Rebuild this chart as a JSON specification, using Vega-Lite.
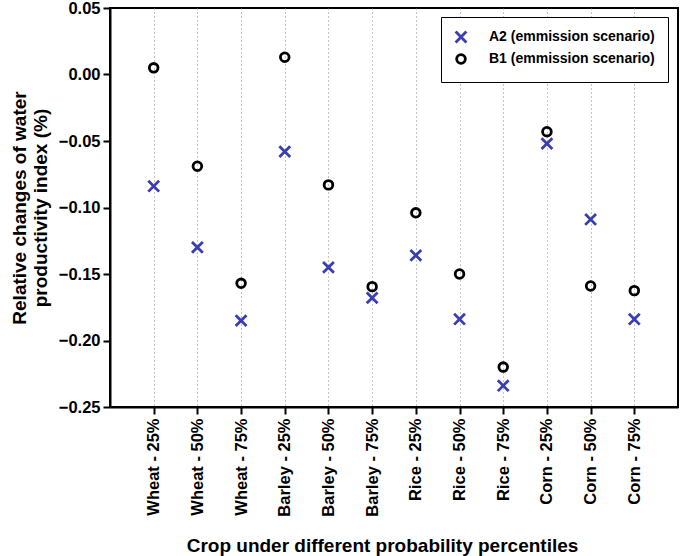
{
  "$schema": "https://vega.github.io/schema/vega-lite/v6.json",
  "width": 568,
  "height": 399,
  "autosize": {"type": "none"},
  "padding": {"left": 110, "top": 8, "right": 7, "bottom": 149},
  "background": "white",
  "config": {
    "font": "Liberation Sans",
    "view": {"stroke": "black", "strokeWidth": 2},
    "axis": {
      "domainColor": "black", "domainWidth": 2, "tickColor": "black", "tickWidth": 2, "tickSize": 7,
      "labelFont": "Liberation Sans", "labelFontWeight": "bold", "labelColor": "black", "labelFontSize": 16.5,
      "titleFont": "Liberation Sans", "titleFontWeight": "bold", "titleColor": "black", "titleFontSize": 19
    }
  },
  "data": {
    "values": [
      {"crop": "Wheat - 25%", "scenario": "A2 (emmission scenario)", "value": -0.084},
      {"crop": "Wheat - 25%", "scenario": "B1 (emmission scenario)", "value": 0.005},
      {"crop": "Wheat - 50%", "scenario": "A2 (emmission scenario)", "value": -0.130},
      {"crop": "Wheat - 50%", "scenario": "B1 (emmission scenario)", "value": -0.069},
      {"crop": "Wheat - 75%", "scenario": "A2 (emmission scenario)", "value": -0.185},
      {"crop": "Wheat - 75%", "scenario": "B1 (emmission scenario)", "value": -0.157},
      {"crop": "Barley - 25%", "scenario": "A2 (emmission scenario)", "value": -0.058},
      {"crop": "Barley - 25%", "scenario": "B1 (emmission scenario)", "value": 0.013},
      {"crop": "Barley - 50%", "scenario": "A2 (emmission scenario)", "value": -0.145},
      {"crop": "Barley - 50%", "scenario": "B1 (emmission scenario)", "value": -0.083},
      {"crop": "Barley - 75%", "scenario": "A2 (emmission scenario)", "value": -0.168},
      {"crop": "Barley - 75%", "scenario": "B1 (emmission scenario)", "value": -0.1595},
      {"crop": "Rice - 25%", "scenario": "A2 (emmission scenario)", "value": -0.136},
      {"crop": "Rice - 25%", "scenario": "B1 (emmission scenario)", "value": -0.104},
      {"crop": "Rice - 50%", "scenario": "A2 (emmission scenario)", "value": -0.184},
      {"crop": "Rice - 50%", "scenario": "B1 (emmission scenario)", "value": -0.150},
      {"crop": "Rice - 75%", "scenario": "A2 (emmission scenario)", "value": -0.234},
      {"crop": "Rice - 75%", "scenario": "B1 (emmission scenario)", "value": -0.220},
      {"crop": "Corn - 25%", "scenario": "A2 (emmission scenario)", "value": -0.052},
      {"crop": "Corn - 25%", "scenario": "B1 (emmission scenario)", "value": -0.043},
      {"crop": "Corn - 50%", "scenario": "A2 (emmission scenario)", "value": -0.109},
      {"crop": "Corn - 50%", "scenario": "B1 (emmission scenario)", "value": -0.159},
      {"crop": "Corn - 75%", "scenario": "A2 (emmission scenario)", "value": -0.184},
      {"crop": "Corn - 75%", "scenario": "B1 (emmission scenario)", "value": -0.1625}
    ]
  },
  "mark": {"type": "point", "filled": false, "strokeWidth": 2.8, "size": 75, "opacity": 1},
  "encoding": {
    "x": {
      "field": "crop", "type": "nominal",
      "sort": ["Wheat - 25%", "Wheat - 50%", "Wheat - 75%", "Barley - 25%", "Barley - 50%", "Barley - 75%", "Rice - 25%", "Rice - 50%", "Rice - 75%", "Corn - 25%", "Corn - 50%", "Corn - 75%"],
      "scale": {"type": "point", "padding": 1},
      "axis": {
        "title": "Crop under different probability percentiles",
        "labelAngle": -90, "labelPadding": 4, "titlePadding": 20, "titleX": 272,
        "grid": true, "gridColor": "#888888", "gridDash": [1, 3], "gridWidth": 1
      }
    },
    "y": {
      "field": "value", "type": "quantitative",
      "scale": {"domain": [-0.25, 0.05], "nice": false, "zero": false},
      "axis": {
        "title": ["Relative changes of water", "productivity index (%)"],
        "values": [-0.25, -0.2, -0.15, -0.1, -0.05, 0, 0.05],
        "format": ".2f", "grid": false, "labelPadding": 3, "titlePadding": 8
      }
    },
    "color": {
      "field": "scenario", "type": "nominal",
      "scale": {"domain": ["A2 (emmission scenario)", "B1 (emmission scenario)"], "range": ["#3a3db3", "#000000"]},
      "legend": {
        "title": null, "orient": "none", "legendX": 331, "legendY": 9,
        "fillColor": "white", "strokeColor": "black", "padding": 13,
        "labelFontSize": 14, "labelFontWeight": "bold", "labelColor": "black", "labelFont": "Liberation Sans", "labelLimit": 400,
        "symbolSize": 75, "symbolStrokeWidth": 2.8, "labelOffset": 21, "rowPadding": 0
      }
    },
    "shape": {
      "field": "scenario", "type": "nominal",
      "scale": {"domain": ["A2 (emmission scenario)", "B1 (emmission scenario)"], "range": ["M-1.25,-1.25L1.25,1.25M-1.25,1.25L1.25,-1.25", "circle"]},
      "legend": {
        "title": null, "orient": "none", "legendX": 331, "legendY": 9,
        "fillColor": "white", "strokeColor": "black", "padding": 13,
        "labelFontSize": 14, "labelFontWeight": "bold", "labelColor": "black", "labelFont": "Liberation Sans", "labelLimit": 400,
        "symbolSize": 75, "symbolStrokeWidth": 2.8, "labelOffset": 21, "rowPadding": 0
      }
    }
  }
}
